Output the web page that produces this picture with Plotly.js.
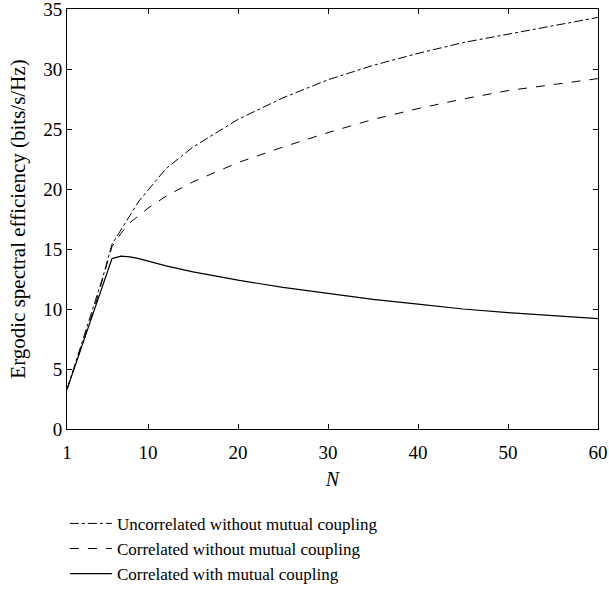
<!DOCTYPE html>
<html>
<head>
<meta charset="utf-8">
<script src="https://cdn.plot.ly/plotly-3.0.1.min.js"></script>
<style>body{margin:0;padding:0;background:#fff;}#chart{width:609px;height:594px;}</style>
</head>
<body>
<div id="chart"></div>
<script>
const N = [1,2,3,4,5,6,7,8,9,10,12,15,20,25,30,35,40,45,50,55,60];
const uncorrNoMC = [3.3,5.6,7.9,10.2,12.7,15.4,16.6,17.9,19.0,19.9,21.7,23.5,25.8,27.6,29.1,30.3,31.3,32.2,32.9,33.6,34.3];
const corrNoMC   = [3.3,5.5,7.8,10.0,12.6,15.2,16.3,17.2,17.8,18.4,19.4,20.6,22.2,23.5,24.7,25.8,26.7,27.5,28.2,28.7,29.2];
const corrMC     = [3.3,5.5,7.7,9.9,12.1,14.2,14.4,14.35,14.2,14.0,13.6,13.1,12.4,11.8,11.3,10.8,10.4,10.0,9.7,9.45,9.2];
const seriesNames = ["Uncorrelated without mutual coupling","Correlated without mutual coupling","Correlated with mutual coupling"];
const xTicks = [1,10,20,30,40,50,60];
const yTicks = [0,5,10,15,20,25,30,35];

const fam = "Liberation Serif, DejaVu Serif, serif";
const tickFont = {family:fam, size:19, color:"#000"};
const titleFont = {family:fam, size:20, color:"#000"};
const yTitleFont = {family:fam, size:21, color:"#000"};
const legFont = {family:fam, size:17, color:"#000"};
const traces = [
  {x:N, y:uncorrNoMC, name:seriesNames[0], mode:"lines", line:{color:"#000", width:1, dash:"dashdot"}},
  {x:N, y:corrNoMC, name:seriesNames[1], mode:"lines", line:{color:"#000", width:1, dash:"dash"}},
  {x:N, y:corrMC, name:seriesNames[2], mode:"lines", line:{color:"#000", width:1.2}}
];
const axisCommon = {showgrid:false, zeroline:false, showline:true, linecolor:"#000", linewidth:1,
  ticks:"inside", ticklen:5, tickcolor:"#000", mirror:"ticks", tickfont:tickFont,
  automargin:false, ticklabeloverflow:"allow"};
const layout = {
  width:609, height:594,
  margin:{l:67, r:11, t:9, b:165, autoexpand:false},
  paper_bgcolor:"#fff", plot_bgcolor:"#fff",
  font:titleFont,
  showlegend:true,
  legend:{x:-0.004, y:-0.183, xanchor:"left", yanchor:"top", orientation:"v", font:legFont,
    bgcolor:"rgba(0,0,0,0)", tracegroupgap:0, itemwidth:42},
  xaxis:Object.assign({}, axisCommon, {range:[1,60], tickvals:xTicks, ticktext:xTicks.map(String),
    ticklabelstandoff:6, title:{text:"<i>N</i>", font:titleFont, standoff:10}}),
  yaxis:Object.assign({}, axisCommon, {range:[0,35], tickvals:yTicks, ticktext:yTicks.map(String),
    title:{text:"Ergodic spectral efficiency (bits/s/Hz)", font:yTitleFont, standoff:11}})
};
Plotly.newPlot("chart", traces, layout, {displayModeBar:false, staticPlot:true});
</script>
</body>
</html>
